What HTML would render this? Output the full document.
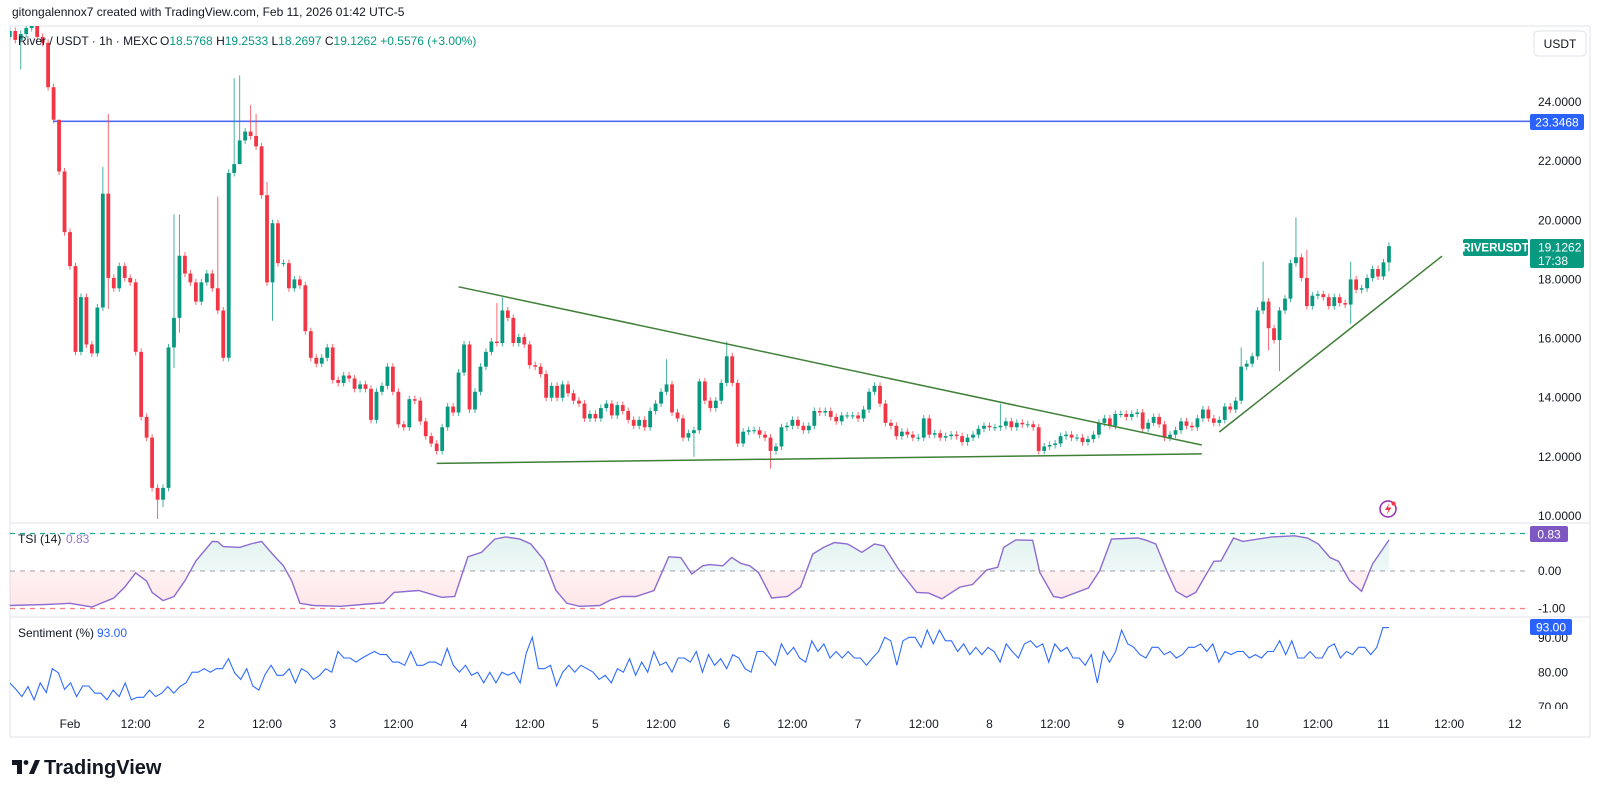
<!DOCTYPE html>
<html>
<head>
<meta charset="utf-8">
<style>
html,body{margin:0;padding:0;background:#fff;}
body{width:1600px;height:797px;overflow:hidden;font-family:"Liberation Sans",Arial,sans-serif;}
svg text{font-family:"Liberation Sans",Arial,sans-serif;}
</style>
</head>
<body>
<svg id="chart" width="1600" height="797" viewBox="0 0 1600 797" xmlns="http://www.w3.org/2000/svg">
  <defs>
    <clipPath id="mainClip"><rect x="10" y="26" width="1520" height="497"/></clipPath>
    <clipPath id="tsiClip"><rect x="10" y="524" width="1520" height="92"/></clipPath>
    <clipPath id="sentClip"><rect x="10" y="618" width="1520" height="94"/></clipPath>
    <clipPath id="aboveZero"><rect x="10" y="524" width="1520" height="47"/></clipPath>
    <clipPath id="belowZero"><rect x="10" y="571" width="1520" height="45"/></clipPath>
    <linearGradient id="gUp" x1="0" y1="0" x2="0" y2="1">
      <stop offset="0" stop-color="#089981" stop-opacity="0.12"/>
      <stop offset="1" stop-color="#089981" stop-opacity="0.01"/>
    </linearGradient>
    <linearGradient id="gDn" x1="0" y1="0" x2="0" y2="1">
      <stop offset="0" stop-color="#f23645" stop-opacity="0.02"/>
      <stop offset="1" stop-color="#f23645" stop-opacity="0.12"/>
    </linearGradient>
  </defs>
  <text x="12" y="16" font-size="12" fill="#131722">gitongalennox7 created with TradingView.com, Feb 11, 2026 01:42 UTC-5</text>
  <rect x="10" y="26" width="1580" height="711" fill="none" stroke="#e0e3eb" stroke-width="1"/>
  <line x1="10" y1="523" x2="1590" y2="523" stroke="#e0e3eb"/>
  <line x1="10" y1="617" x2="1590" y2="617" stroke="#e0e3eb"/>
  <g id="main" clip-path="url(#mainClip)"></g>
  <g id="tsi"></g>
  <g id="sent"></g>
  <g id="axes"></g>
  <g id="overlay"></g>
</svg>
<script>
// ---------- data ----------
const firstHour = -11; // hours relative to Feb 1 00:00 of the first candle
const firstOpen = 26.2;
const closes = [26.4,26.1,26.3,26.5,26.6,26.2,26.0,24.5,23.4,21.65,19.6,18.45,15.55,17.4,15.8,15.5,17.05,20.9,18.05,17.7,18.45,18.05,17.9,15.55,13.35,12.65,10.95,10.55,10.95,15.7,16.7,18.8,18.2,17.9,17.25,17.9,18.2,17.7,16.95,15.35,21.6,21.9,22.7,23.0,22.85,22.5,20.85,17.9,19.9,18.55,18.55,17.7,18.0,17.8,16.25,15.35,15.15,15.35,15.7,14.6,14.5,14.75,14.65,14.3,14.45,14.3,13.25,14.2,14.4,15.05,14.2,13.1,13.0,13.95,13.9,
13.2,12.7,12.45,12.2,13.0,13.7,13.5,14.85,15.8,13.6,14.2,15.05,15.55,15.9,15.85,16.95,16.7,15.85,16.05,15.8,15.1,15.05,14.8,14.0,14.4,14.0,14.45,14.15,13.9,13.8,13.3,13.45,13.3,13.65,13.8,13.4,13.75,13.55,13.25,13.05,13.25,13.0,13.55,13.8,14.2,14.45,13.5,13.3,12.65,12.8,12.9,14.55,13.9,13.65,13.9,14.5,15.4,14.5,12.45,12.85,12.9,12.9,12.75,12.65,12.2,12.35,13.0,13.05,13.25,13.05,12.9,13.05,13.55,13.5,13.55,13.35,13.2,13.4,13.4,13.4,13.3,13.6,
14.2,14.4,13.8,13.15,13.05,12.7,12.85,12.75,12.65,12.65,13.3,12.75,12.8,12.65,12.7,12.75,12.7,12.5,12.65,12.75,12.95,13.05,13.0,13.0,13.05,13.2,13.0,13.15,13.1,13.1,13.0,12.2,12.35,12.4,12.45,12.7,12.75,12.65,12.65,12.5,12.6,12.75,13.15,13.3,13.05,13.45,13.45,13.35,13.45,13.5,12.95,13.15,13.35,13.1,12.65,12.75,12.9,13.2,13.05,13.0,13.3,13.6,13.3,13.15,13.25,13.7,13.6,13.9,15.05,15.15,15.4,16.95,17.25,16.35,15.95,16.95,17.35,18.55,18.75,18.05,17.1,17.45,17.5,17.4,17.1,17.4,17.2,17.15,18.0,17.65,17.7,18.05,18.35,18.1,18.5768,19.1262];
// notable wick extremes: [candle index, high, low]
const wickIdx  = [2,9,17,18,27,28,30,31,38,41,42,44,45,47,48,89,90,120,125,126,131,139,181,225,229,230,232,235,237,245,252];
const wickHigh = [null,23.3,21.8,23.6,null,null,20.2,20.2,20.8,24.8,24.9,23.9,23.6,21.3,null,17.2,17.4,15.3,null,14.65,15.9,null,13.8,15.7,18.6,null,null,20.1,19.0,18.6,19.2533];
const wickLow  = [25.1,null,null,17.0,9.9,10.3,15.0,16.2,null,null,22.1,null,null,null,16.6,null,null,null,12.0,null,null,11.6,null,null,null,15.6,14.9,null,null,16.5,18.2697];
const wickPad = 0.12;

const tsiHour = [0,7,11,15,19,21,23,25,26,28,30,32,34,37,38,39,42,44,46,48,50,51.5,53,55.5,60.5,65.4,68.3,70.2,74.7,78.9,81.3,83.7,86.2,88.6,90.6,93.2,95.2,97.6,99.8,101.8,104.1,107.8,109.8,111.8,114.4,117.7,120.4,122.6,124.6,126.6,127.9,130.3,131.9,133.6,135.2,136.8,139.2,142.1,144.5,146.7,148.7,150.7,153.1,155.7,158,159.7,162.6,165.7,167.9,170.3,173.6,175.9,178.5,180.5,181.6,183.8,186.9,188.2,190.7,192.2,197.1,199.1,201.3,206.1,207.7,209.4,211.4,213.1,215,216.7,220,221.3,223.6,225.3,230.6,234.8,237.1,239.1,241.2,242.8,244.8,247,249,252];
const tsiVal = [-0.92,-0.89,-0.86,-0.96,-0.72,-0.43,-0.05,-0.27,-0.57,-0.79,-0.68,-0.26,0.27,0.79,0.78,0.65,0.63,0.72,0.79,0.45,0.14,-0.26,-0.86,-0.92,-0.94,-0.88,-0.85,-0.57,-0.52,-0.70,-0.68,0.38,0.50,0.85,0.91,0.85,0.72,0.29,-0.52,-0.86,-0.94,-0.92,-0.77,-0.68,-0.68,-0.52,0.38,0.36,-0.08,0.14,0.17,0.14,0.36,0.20,0.14,-0.04,-0.72,-0.68,-0.43,0.45,0.63,0.76,0.72,0.50,0.72,0.67,0.0,-0.57,-0.59,-0.74,-0.43,-0.36,0.03,0.10,0.63,0.83,0.82,-0.04,-0.68,-0.72,-0.45,0.0,0.85,0.88,0.82,0.72,0.0,-0.54,-0.70,-0.57,0.26,0.27,0.88,0.79,0.91,0.94,0.88,0.72,0.36,0.26,-0.26,-0.54,0.19,0.83];

const sentVal = [77.0,75.1,73.0,75.9,72.1,77.0,74.2,81.1,79.9,75.1,77.0,73.0,76.1,76.1,74.0,74.0,72.1,74.9,73.0,77.0,72.1,72.8,72.8,74.9,73.0,74.0,75.9,74.0,75.9,77.0,80.1,80.1,81.1,80.1,81.1,81.1,84.0,79.9,78.0,81.1,76.1,74.9,79.4,82.1,79.2,79.2,81.1,77.0,81.1,80.1,78.0,79.2,81.1,80.1,86.1,84.2,84.2,83.0,84.2,85.2,86.1,85.2,85.2,83.0,83.0,82.1,86.1,82.1,82.1,83.0,83.0,82.1,87.0,82.1,80.1,82.1,79.2,80.1,77.0,80.1,77.0,80.1,79.2,80.1,77.0,85.6,90.2,81.1,81.1,82.1,76.1,80.1,82.1,80.1,82.1,81.1,80.1,78.0,79.2,77.0,81.1,80.1,84.0,79.2,83.0,80.1,86.1,82.1,83.0,80.1,84.2,84.2,83.0,86.1,80.1,85.2,82.1,84.0,81.1,85.2,84.2,81.1,80.1,86.1,
86.1,84.2,82.1,88.3,85.2,87.3,84.2,83.0,89.2,86.1,88.3,84.2,86.1,84.2,86.1,84.2,84.2,82.1,84.2,86.1,90.2,89.2,82.1,89.2,90.2,90.2,87.3,92.3,88.3,92.3,89.2,89.2,86.1,88.3,85.2,87.3,85.2,87.3,86.1,83.0,88.3,86.1,84.2,88.3,89.2,87.3,88.3,83.0,88.3,86.1,87.3,84.2,84.2,82.1,85.2,77.0,86.1,83.0,86.1,92.3,88.3,87.3,85.2,84.2,87.3,87.3,85.2,86.1,84.2,85.2,87.3,87.3,88.3,86.1,88.3,83.0,86.1,85.2,86.1,86.1,84.2,85.2,84.2,86.1,86.1,89.2,85.2,89.2,84.2,84.2,86.1,84.2,84.2,87.3,88.3,84.2,86.1,85.2,87.3,87.3,85.2,87.3,93.0,93.0];

const priceTicks = [24,22,20,18,16,14,12,10];
const tsiTicks = [1,0,-1];
const sentTicks = [90,80,70];
const dayLabels = ["Feb","12:00","2","12:00","3","12:00","4","12:00","5","12:00","6","12:00","7","12:00","8","12:00","9","12:00","10","12:00","11","12:00","12"];
const hLevel = 23.3468;
// trendlines: [hour from Feb1, price]
const trendDown = [[71,17.75],[206.8,12.4]];
const trendFlat = [[67,11.78],[206.8,12.1]];
const trendUp   = [[210,12.84],[250.7,18.79]];

// ---------- scales ----------
const NS='http://www.w3.org/2000/svg';
const X_FEB1=70, HOURW=131.35/24;
function xT(h){return X_FEB1 + h*HOURW;}
function yP(p){return 102 + (24-p)*29.57;}
function yTsi(v){return 571 - v*37.5;}
function ySent(v){return 638 + (90-v)*3.45;}
function el(tag, attrs, parent){const e=document.createElementNS(NS,tag);for(const k in attrs)e.setAttribute(k,attrs[k]);parent.appendChild(e);return e;}

const mainG=document.getElementById('main');
const tsiG=document.getElementById('tsi');
const sentG=document.getElementById('sent');
const axG=document.getElementById('axes');

const hl=el('line',{x1:53,y1:yP(hLevel),x2:1530,y2:yP(hLevel),stroke:'#4f6ef7','stroke-width':1.6},mainG);



const UP='#089981', DN='#f23645';
for(let i=0;i<closes.length;i++){
  const o = i===0?firstOpen:closes[i-1];
  const c = closes[i];
  let hi=Math.max(o,c)+wickPad, lo=Math.min(o,c)-wickPad;
  const k=wickIdx.indexOf(i);
  if(k>=0){ if(wickHigh[k]!==null) hi=wickHigh[k]; if(wickLow[k]!==null) lo=wickLow[k]; }
  const x=xT(firstHour+i);
  const col=c>=o?UP:DN;
  const g=el('g',{},mainG);
  
  
  el('line',{x1:x,y1:yP(hi),x2:x,y2:yP(lo),stroke:col,'stroke-width':1,opacity:0.75},g);
  const yt=yP(Math.max(o,c)), yb=yP(Math.min(o,c));
  el('rect',{x:x-1.9,y:yt,width:3.8,height:Math.max(1,yb-yt),fill:col},g);
}

function tline(pts,name){
  const l=el('line',{x1:xT(pts[0][0]),y1:yP(pts[0][1]),x2:xT(pts[1][0]),y2:yP(pts[1][1]),stroke:'#3f7f36','stroke-width':1.5},mainG);
  
  
}
tline(trendDown,'descending-trendline');
tline(trendFlat,'support-trendline');
tline(trendUp,'ascending-trendline');

[[1,'#22ab94'],[0,'#9598a1'],[-1,'#f77c80']].forEach(function(d){
  const l=el('line',{x1:10,y1:yTsi(d[0]),x2:1530,y2:yTsi(d[0]),stroke:d[1],'stroke-width':1.2,'stroke-dasharray':'5 5',opacity:d[0]===0?0.7:1},tsiG);
  
  
});
let tp='';
for(let i=0;i<tsiVal.length;i++){tp+=(i?'L':'M')+xT(firstHour+tsiHour[i]).toFixed(1)+','+yTsi(tsiVal[i]).toFixed(1);}
const x0=xT(firstHour+tsiHour[0]), x1=xT(firstHour+tsiHour[tsiHour.length-1]);
const area=tp+'L'+x1+','+yTsi(0)+'L'+x0+','+yTsi(0)+'Z';
const fu=el('path',{d:area,fill:'url(#gUp)','clip-path':'url(#aboveZero)'},tsiG);


const fd=el('path',{d:area,fill:'url(#gDn)','clip-path':'url(#belowZero)'},tsiG);


const tl=el('path',{d:tp,fill:'none',stroke:'#8e6bd0','stroke-width':1.4},tsiG);



let sp='';
const span=closes.length-1;
for(let i=0;i<sentVal.length;i++){
  const h=firstHour + i*span/(sentVal.length-1);
  sp+=(i?'L':'M')+xT(h).toFixed(1)+','+ySent(sentVal[i]).toFixed(1);
}
const sl=el('path',{d:sp,fill:'none',stroke:'#2f6bff','stroke-width':1.1,'clip-path':'url(#sentClip)'},sentG);



priceTicks.forEach(function(p){
  const t=el('text',{x:1538,y:yP(p)+4,'font-size':12,fill:'#131722'},axG);
  t.textContent=p.toFixed(4);
  
  
});
tsiTicks.forEach(function(v){
  const t=el('text',{x:1538,y:yTsi(v)+4,'font-size':12,fill:'#131722'},axG);
  t.textContent=v.toFixed(2);
  
  
});
sentTicks.forEach(function(v){
  const t=el('text',{x:1538,y:ySent(v)+4,'font-size':12,fill:'#131722'},axG);
  t.textContent=v.toFixed(2);
  
  
});
dayLabels.forEach(function(s,i){
  const t=el('text',{x:xT(i*12),y:728,'font-size':12,fill:'#131722','text-anchor':'middle'},axG);
  t.textContent=s;
  
  
});
</script>
<svg style="position:absolute;left:0;top:0" width="1600" height="797" viewBox="0 0 1600 797" xmlns="http://www.w3.org/2000/svg">
  <rect x="1531" y="709" width="58" height="8" fill="#fff"/>
  <g font-size="12">
    <text x="18" y="45" fill="#131722">River / USDT · 1h · MEXC</text>
    <text x="160" y="45" fill="#131722">O<tspan fill="#089981">18.5768</tspan> H<tspan fill="#089981">19.2533</tspan> L<tspan fill="#089981">18.2697</tspan> C<tspan fill="#089981">19.1262</tspan> <tspan fill="#089981">+0.5576 (+3.00%)</tspan></text>
  </g>
  <g>
    <rect x="1534" y="31" width="52" height="25" rx="4" fill="#fff" stroke="#e0e3eb"/>
    <text x="1560" y="48" font-size="12" fill="#131722" text-anchor="middle">USDT</text>
  </g>
  <g>
    <rect x="1530" y="114" width="54" height="16" rx="2" fill="#2962ff"/>
    <text x="1557" y="126.5" font-size="12" fill="#fff" text-anchor="middle">23.3468</text>
  </g>
  <g>
    <rect x="1463" y="239" width="65" height="17" rx="2" fill="#089981"/>
    <text x="1495.5" y="251.5" font-size="11.5" font-weight="bold" fill="#fff" text-anchor="middle">RIVERUSDT</text>
    <rect x="1530" y="239" width="54" height="29" rx="2" fill="#089981"/>
    <text x="1538" y="251.5" font-size="12" fill="#fff">19.1262</text>
    <text x="1538" y="265" font-size="12" fill="#fff">17:38</text>
  </g>
  <g>
    <rect x="1530" y="526" width="38" height="16" rx="2" fill="#7e57c2"/>
    <text x="1549" y="538.5" font-size="12" fill="#fff" text-anchor="middle">0.83</text>
  </g>
  <g>
    <rect x="1530" y="619" width="42" height="16" rx="2" fill="#2962ff"/>
    <text x="1551" y="631.5" font-size="12" fill="#fff" text-anchor="middle">93.00</text>
  </g>
  <g font-size="12">
    <text x="18" y="543" fill="#131722">TSI (14)</text>
    <text x="66" y="543" fill="#9575cd">0.83</text>
  </g>
  <g font-size="12">
    <text x="18" y="637" fill="#131722">Sentiment (%)</text>
    <text x="97" y="637" fill="#2962ff">93.00</text>
  </g>
  <g>
    <circle cx="1388" cy="509" r="8" fill="#fff" stroke="#9c27b0" stroke-width="1.5"/>
    <path d="M1389.5 503 L1385 510 L1388.5 510 L1386.5 515 L1391.5 507.5 L1388 507.5 Z" fill="#f23645"/>
    <circle cx="1393.5" cy="503.5" r="2" fill="#f23645"/>
  </g>
  <g>
    <path d="M12 760 h10 v14 h-5 v-9 h-5 z" fill="#131722"/>
    <path d="M29 774 l6 -14 h5 l-6 14 z" fill="#131722"/>
    <circle cx="26" cy="762.5" r="2.4" fill="#131722"/>
    <text x="44" y="774" font-size="20" font-weight="bold" fill="#131722">TradingView</text>
  </g>
</svg>
</body>
</html>
